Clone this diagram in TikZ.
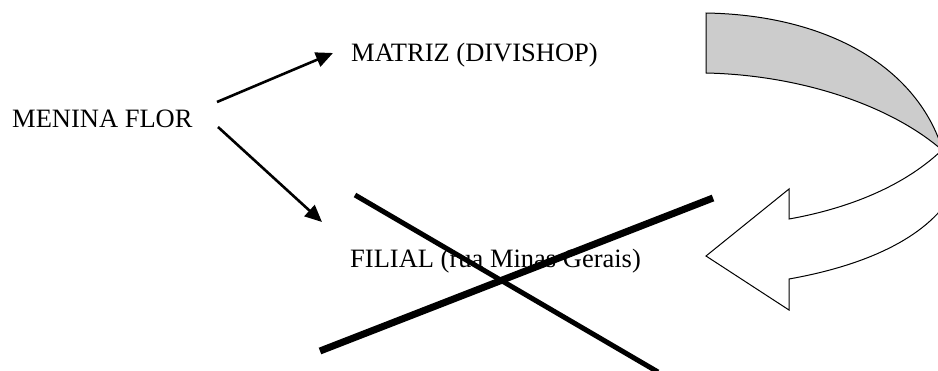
\documentclass[tikz,border=0pt]{standalone}
\usepackage{fontspec}
\setmainfont{Liberation Serif}
\usetikzlibrary{arrows.meta}
\begin{document}
\begin{tikzpicture}[x=1pt,y=-1pt,
  lbl/.style={anchor=base west,inner sep=0pt,font=\fontsize{26.5}{31}\selectfont},
  conn/.style={line width=2.6pt,-{Triangle[length=17pt,width=15pt]}},
  outl/.style={line width=1pt,line join=miter}]
\useasboundingbox (0,0) rectangle (938,370);
\clip (0,0) rectangle (938,370);
% texts
\node[lbl] (menina) at (12,127) {MENINA FLOR};
\node[lbl] (matriz) at (351,61) {MATRIZ (DIVISHOP)};
\node[lbl] (filial) at (350,267) {FILIAL (rua Minas Gerais)};
% connector anchor points
\coordinate (s1) at (217,102);
\coordinate (t1) at (333,53);
\coordinate (s2) at (218,127);
\coordinate (t2) at (322,222);
\draw[conn] (s1) -- (t1);
\draw[conn] (s2) -- (t2);
% cross
\coordinate (xa) at (355,195);
\coordinate (xb) at (658,372);
\coordinate (xc) at (320,351);
\coordinate (xd) at (713,198);
\draw[line width=5pt] (xa) -- (xb);
\draw[line width=7pt] (xc) -- (xd);
% curved arrow: back (gray) part
\draw[outl,fill=black!20] (706,13) .. controls (825,15) and (915,65) .. (942,148)
  -- (942,150) .. controls (890,105) and (800,75) .. (706,73) -- cycle;
% front (white) part with arrow head
\draw[outl,fill=white] (942,150) .. controls (900,190) and (840,210) .. (789,219)
  -- (789,189) -- (706,256) -- (789,310) -- (789,279)
  .. controls (840,270) and (910,250) .. (945,205) -- (945,150) -- cycle;
\end{tikzpicture}
\end{document}
